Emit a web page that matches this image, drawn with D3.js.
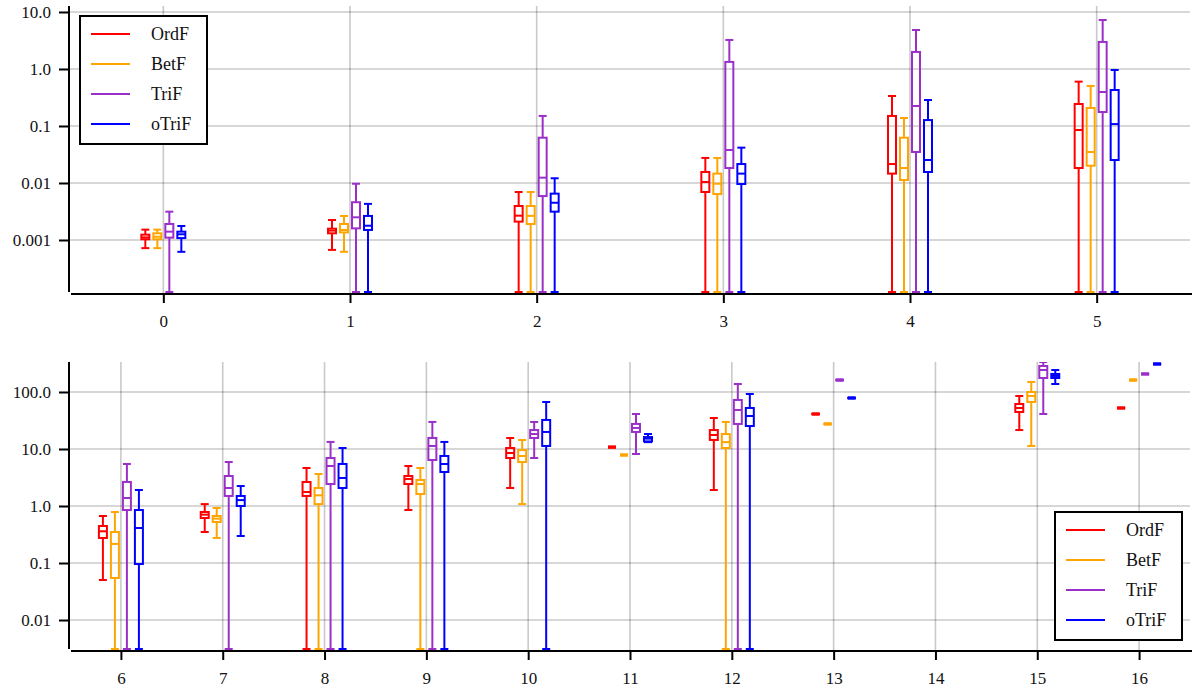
<!DOCTYPE html>
<html>
<head>
<meta charset="utf-8">
<script src="https://cdn.jsdelivr.net/npm/d3@7"></script>
<style>
  html, body { margin: 0; padding: 0; background: #fff; }
  svg { display: block; }
  text { font-family: "Liberation Serif", "Times New Roman", serif; fill: #111; }
</style>
</head>
<body>
<svg id="chart" width="1192" height="692"></svg>
<script>
// ---------------- data ----------------
const seriesNames = ["OrdF", "BetF", "TriF", "oTriF"];
const seriesColors = ["#ff0000", "#ffa500", "#9b30c9", "#0000ff"];

const categoriesTop = [0, 1, 2, 3, 4, 5];
const categoriesBottom = [6, 7, 8, 9, 10, 11, 12, 13, 14, 15, 16];

const yTicksTop = [0.001, 0.01, 0.1, 1, 10];
const yTickLabelsTop = ["0.001", "0.01", "0.1", "1.0", "10.0"];
const yTicksBottom = [0.01, 0.1, 1, 10, 100];
const yTickLabelsBottom = ["0.01", "0.1", "1.0", "10.0", "100.0"];

// each entry: [lower whisker, q1, median, q3, upper whisker]; 0 = below axis; null = no data
const ordF = [
  [7.2e-4, 1.03e-3, 1.11e-3, 1.24e-3, 1.52e-3],
  [6.7e-4, 1.31e-3, 1.46e-3, 1.58e-3, 2.24e-3],
  [0, 2.1e-3, 2.67e-3, 3.95e-3, 6.95e-3],
  [0, 6.95e-3, 0.0104, 0.0156, 0.0275],
  [0, 0.0146, 0.0215, 0.15, 0.336],
  [0, 0.0183, 0.0851, 0.243, 0.6],
  [0.0503, 0.275, 0.36, 0.446, 0.668],
  [0.35, 0.616, 0.705, 0.785, 1.08],
  [0, 1.5, 1.76, 2.64, 4.64],
  [0.85, 2.43, 2.98, 3.36, 5.03],
  [2.07, 6.95, 8.5, 10.4, 15.6],
  [10.8, 10.8, 10.8, 10.8, 10.8],
  [1.91, 14.4, 17.6, 21.5, 35],
  [41.1, 41.1, 41.1, 41.1, 41.1],
  null,
  [21.5, 44.6, 52.4, 61.6, 85.1],
  [52.4, 52.4, 52.4, 52.4, 52.4]
];
const betF = [
  [7.2e-4, 1.03e-3, 1.14e-3, 1.31e-3, 1.52e-3],
  [6.2e-4, 1.36e-3, 1.5e-3, 1.91e-3, 2.64e-3],
  [0, 1.91e-3, 2.65e-3, 3.95e-3, 6.95e-3],
  [0, 6.4e-3, 9.7e-3, 0.0146, 0.0275],
  [0, 0.0113, 0.0183, 0.0623, 0.138],
  [0, 0.0201, 0.035, 0.207, 0.504],
  [0, 0.0546, 0.216, 0.35, 0.785],
  [0.275, 0.524, 0.6, 0.668, 0.922],
  [0, 1.08, 1.54, 2.07, 3.64],
  [0, 1.62, 2.43, 2.86, 4.64],
  [1.08, 5.91, 7.54, 9.6, 14.4],
  [7.85, 7.85, 7.85, 7.85, 7.85],
  [0, 10.4, 13.2, 18.3, 29.8],
  [27.5, 27.5, 27.5, 27.5, 27.5],
  null,
  [11.3, 66.8, 85.1, 100, 150],
  [162, 162, 162, 162, 162]
];
const triF = [
  [0, 1.10e-3, 1.40e-3, 1.91e-3, 3.14e-3],
  [0, 1.6e-3, 2.5e-3, 4.6e-3, 9.7e-3],
  [0, 5.9e-3, 0.0124, 0.0623, 0.15],
  [0, 0.0183, 0.0379, 1.33, 3.23],
  [0, 0.035, 0.224, 1.99, 4.83],
  [0, 0.176, 0.395, 2.98, 7.24],
  [0, 0.85, 1.38, 2.64, 5.46],
  [0, 1.5, 2.07, 3.36, 5.91],
  [0, 2.43, 5.03, 6.95, 13.3],
  [0, 6.41, 11.3, 15.6, 29.8],
  [6.95, 15.6, 18.3, 21.5, 29.8],
  [8.17, 19.9, 23.4, 27.5, 41.1],
  [0, 27.5, 48.3, 72.4, 138],
  [162, 162, 162, 162, 162],
  null,
  [41.1, 176, 243, 286, 336],
  [207, 207, 207, 207, 207]
];
const oTriF = [
  [6.2e-4, 1.08e-3, 1.26e-3, 1.40e-3, 1.76e-3],
  [0, 1.5e-3, 1.78e-3, 2.64e-3, 4.3e-3],
  [0, 3.14e-3, 4.5e-3, 6.5e-3, 0.0121],
  [0, 9.6e-3, 0.0146, 0.0215, 0.0417],
  [0, 0.0156, 0.0253, 0.127, 0.286],
  [0, 0.0253, 0.108, 0.428, 0.96],
  [0, 0.096, 0.411, 0.85, 1.91],
  [0.298, 1.0, 1.27, 1.5, 2.24],
  [0, 2.07, 3.1, 5.46, 10.4],
  [0, 3.95, 5.46, 7.54, 13.3],
  [0, 11.3, 19.9, 32.3, 66.8],
  [13.2, 13.6, 15.2, 16.2, 18.3],
  [0, 25.3, 37.9, 52.4, 92.2],
  [78.5, 78.5, 78.5, 78.5, 78.5],
  null,
  [138, 176, 191, 207, 243],
  [310, 310, 310, 310, 310]
];
const seriesData = [ordF, betF, triF, oTriF];

// ---------------- drawing ----------------
const svg = d3.select("#chart");
const color = d3.scaleOrdinal().domain(seriesNames).range(seriesColors);
const dodge = d3.scalePoint().domain(seriesNames).range([-18, 18]);
const boxW = 8, capW = 8;

function panel(cfg) {
  const {left, right, top, bottom, cats, yDomain, yTicks, yLabels, legend, id} = cfg;
  const x = d3.scaleLinear().domain([cats[0] - 0.5, cats[cats.length - 1] + 0.5]).range([left, right]);
  const y = d3.scaleLog().domain(yDomain).range([bottom, top]);
  const g = svg.append("g");

  g.append("clipPath").attr("id", id).append("rect")
    .attr("x", left).attr("y", top).attr("width", right - left).attr("height", bottom - top);

  // grid
  const grid = g.append("g").attr("stroke", "rgba(0,0,0,0.21)").attr("stroke-width", 1.6);
  grid.selectAll("line.h").data(yTicks).join("line")
    .attr("x1", left).attr("x2", right).attr("y1", d => y(d)).attr("y2", d => y(d));
  grid.selectAll("line.v").data(cats).join("line")
    .attr("x1", d => x(d)).attr("x2", d => x(d)).attr("y1", top).attr("y2", bottom);

  // boxes
  const plot = g.append("g").attr("clip-path", `url(#${id})`);
  const ymin = yDomain[0];
  const yy = v => y(Math.max(v, ymin)) - (v <= ymin ? 1 : 0);
  seriesNames.forEach((name, si) => {
    const col = color(name);
    const sg = plot.append("g").attr("stroke", col).attr("stroke-width", 2).attr("fill", "none");
    cats.forEach(c => {
      const st = seriesData[si][c];
      if (!st) return;
      const [lo, q1, med, q3, hi] = st;
      const cx = x(c) + dodge(name);
      sg.append("line").attr("x1", cx).attr("x2", cx).attr("y1", yy(lo)).attr("y2", yy(q1));
      sg.append("line").attr("x1", cx).attr("x2", cx).attr("y1", yy(q3)).attr("y2", yy(hi));
      sg.append("line").attr("x1", cx - capW / 2).attr("x2", cx + capW / 2).attr("y1", yy(lo)).attr("y2", yy(lo));
      sg.append("line").attr("x1", cx - capW / 2).attr("x2", cx + capW / 2).attr("y1", yy(hi)).attr("y2", yy(hi));
      const yt = yy(q3), yb = yy(q1);
      if (yb - yt < 0.5) {
        sg.append("line").attr("x1", cx - boxW / 2).attr("x2", cx + boxW / 2)
          .attr("y1", yt).attr("y2", yt).attr("stroke-width", 3.5);
      } else {
        sg.append("rect").attr("x", cx - boxW / 2).attr("y", yt).attr("width", boxW).attr("height", yb - yt);
      }
      sg.append("line").attr("x1", cx - boxW / 2).attr("x2", cx + boxW / 2).attr("y1", yy(med)).attr("y2", yy(med));
    });
  });

  // axes
  const yAxis = d3.axisLeft(y).tickValues(yTicks).tickFormat((d, i) => yLabels[i]).tickSize(10).tickPadding(8);
  const ya = g.append("g").attr("transform", `translate(${left - 1},0)`).call(yAxis);
  const xAxis = d3.axisBottom(x).tickValues(cats).tickFormat(d3.format("d")).tickSize(10).tickPadding(12);
  const xa = g.append("g").attr("transform", `translate(0,${bottom})`).call(xAxis);
  [ya, xa].forEach(a => {
    a.select(".domain").remove();
    a.selectAll(".tick line").attr("stroke", "#000").attr("stroke-width", 2);
    a.selectAll(".tick text").attr("font-size", 17).attr("font-family", "Liberation Serif").attr("fill", "#111");
  });
  g.append("line").attr("x1", left - 1).attr("x2", left - 1).attr("y1", top).attr("y2", bottom - 1)
    .attr("stroke", "#000").attr("stroke-width", 2);
  g.append("line").attr("x1", left + 1).attr("x2", right + 2).attr("y1", bottom + 1).attr("y2", bottom + 1)
    .attr("stroke", "#000").attr("stroke-width", 2);

  // legend
  const lg = g.append("g").attr("transform", `translate(${legend.x},${legend.y})`);
  lg.append("rect").attr("x", 0).attr("y", 0).attr("width", 127).attr("height", 128)
    .attr("fill", "#fff").attr("stroke", "#000").attr("stroke-width", 2);
  seriesNames.forEach((name, i) => {
    const ry = 18 + i * 30;
    lg.append("line").attr("x1", 11).attr("x2", 50).attr("y1", ry).attr("y2", ry)
      .attr("stroke", color(name)).attr("stroke-width", 2);
    lg.append("text").attr("x", 71).attr("y", ry).attr("dy", "0.35em")
      .attr("font-size", 18).text(name);
  });
}

panel({
  id: "clipTop", left: 70, right: 1190, top: 6, bottom: 293,
  cats: categoriesTop, yDomain: [Math.pow(10, -3.93), Math.pow(10, 1.105)],
  yTicks: yTicksTop, yLabels: yTickLabelsTop, legend: {x: 80, y: 16}
});
panel({
  id: "clipBottom", left: 70, right: 1190, top: 362, bottom: 650,
  cats: categoriesBottom, yDomain: [Math.pow(10, -2.526), Math.pow(10, 2.526)],
  yTicks: yTicksBottom, yLabels: yTickLabelsBottom, legend: {x: 1055, y: 512}
});
</script>
</body>
</html>
